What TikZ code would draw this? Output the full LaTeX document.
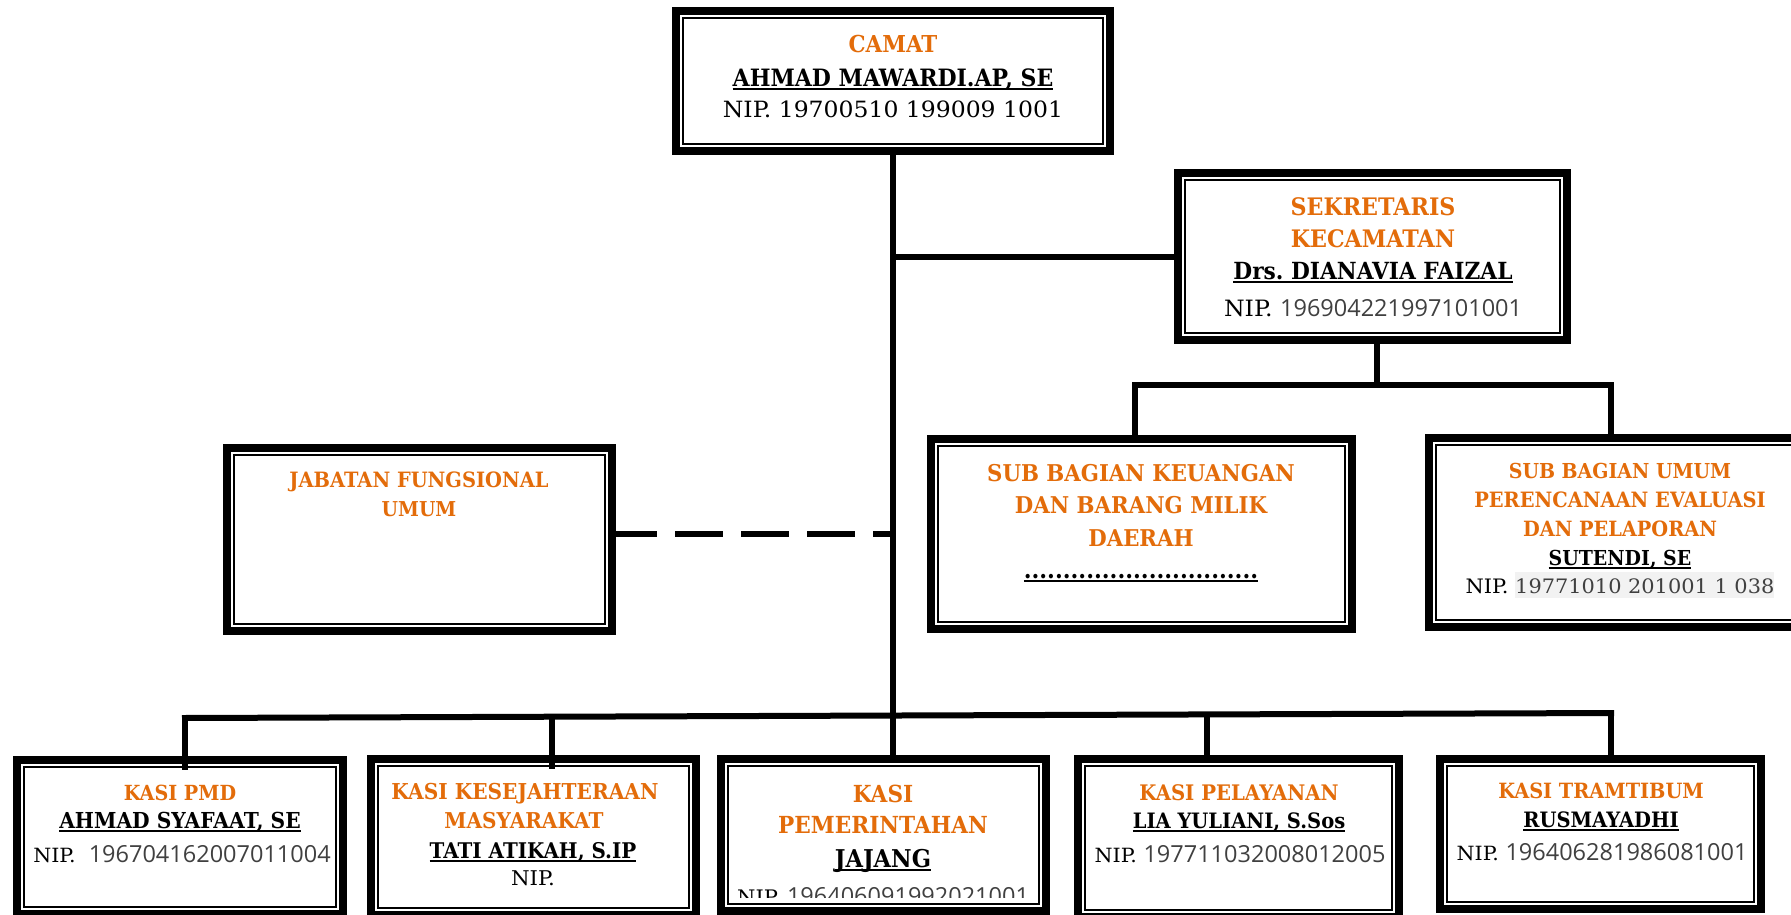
\documentclass[tikz,border=0pt]{standalone}
\usepackage{fontspec}
\newfontfamily\nipsans{Open Sans}
\newfontfamily\dvs{DejaVu Serif}[FakeStretch=0.92]
\newfontfamily\dvr{DejaVu Serif}[FakeStretch=1.05]
\definecolor{org}{HTML}{E36C0A}
\definecolor{dg}{HTML}{404040}
\definecolor{hl}{HTML}{F2F2F2}
\newcommand\dig[1]{{\nipsans\fontsize{23.5}{23.5}\selectfont\color{dg}#1}}
\frenchspacing
\tikzset{
  orgbox/.style={draw, line width=8pt, fill=white, inner sep=0pt, outer sep=4pt, rectangle},
  innerframe/.style={line width=2pt},
  conn/.style={line width=6pt},
  dconn/.style={line width=6.5pt, dash pattern=on 48pt off 18pt, dash phase=7pt},
  txt/.style={anchor=base, inner sep=0pt, outer sep=0pt},
  ttl/.style={txt, text=org, font=\dvs\bfseries\fontsize{#1}{#1}\selectfont},
  nm/.style={txt, text=black, font=\dvs\bfseries\fontsize{#1}{#1}\selectfont},
  rg/.style={txt, text=black, font=\dvr\fontsize{#1}{#1}\selectfont},
  uline/.style={line width=2pt}
}
\newcommand\orgframe[5]{%
  \node[orgbox, minimum width={#4-#2-8}, minimum height={#5-#3-8}] (#1) at ({(#2+#4)/2},{(#3+#5)/2}) {};
  \draw[innerframe] ([shift={(11pt,-11pt)}]#1.north west) rectangle ([shift={(-11pt,11pt)}]#1.south east);
}
\newcommand\tline[5]{\node[#4] (#1) at (#2,#3) {#5};}
\newcommand\uln[1]{\draw[uline] ([yshift=-3pt]#1.base west) -- ([yshift=-3pt]#1.base east);}
\begin{document}
\begin{tikzpicture}[x=1pt,y=-1pt]
\useasboundingbox (0,0) rectangle (1791,914);
\clip (0,0) rectangle (1791,914);
\fill[white] (0,0) rectangle (1791,914);

% boxes
\orgframe{camat}{672}{7}{1114}{155}
\orgframe{sekr}{1174}{169}{1571}{344}
\orgframe{keu}{927}{435}{1356}{633}
\orgframe{umum}{1425}{434}{1815}{631}
\orgframe{jab}{223}{444}{616}{635}
\orgframe{pmd}{13}{756}{347}{918}
\orgframe{kesej}{367}{755}{700}{919}
\orgframe{pem}{717}{755}{1050}{915}
\orgframe{pel}{1074}{755}{1403}{921}
\orgframe{tram}{1436}{755}{1765}{913}

% CAMAT
\tline{camatT}{893}{52}{ttl=23.3}{CAMAT}
\tline{camatN}{893}{86}{nm=23.9}{AHMAD MAWARDI.AP, SE}
\uln{camatN}
\tline{camatP}{893}{117}{rg=22.4}{NIP. 19700510 199009 1001}

% SEKRETARIS
\tline{sekrT1}{1373}{215}{ttl=24.1}{SEKRETARIS}
\tline{sekrT2}{1373}{247}{ttl=24.1}{KECAMATAN}
\tline{sekrN}{1373}{279}{nm=23.6}{Drs. DIANAVIA FAIZAL}
\uln{sekrN}
\tline{sekrP}{1373}{316}{rg=22.5}{NIP. \dig{196904221997101001}}

% SUB BAGIAN KEUANGAN
\tline{keuT1}{1141}{481}{ttl=23.1}{SUB BAGIAN KEUANGAN}
\tline{keuT2}{1141}{513}{ttl=23.1}{DAN BARANG MILIK}
\tline{keuT3}{1141}{546}{ttl=23.1}{DAERAH}
\tline{keuN}{1141}{578}{nm=24.4}{..............................}
\uln{keuN}

% SUB BAGIAN UMUM
\tline{umumT1}{1620}{478}{ttl=20.6}{SUB BAGIAN UMUM}
\tline{umumT2}{1620}{507}{ttl=21.1}{PERENCANAAN EVALUASI}
\tline{umumT3}{1620}{536}{ttl=21}{DAN PELAPORAN}
\tline{umumN}{1620}{565}{nm=20.6}{SUTENDI, SE}
\uln{umumN}
\tline{umumP}{1620}{593}{rg=19.9}{NIP. {\setlength\fboxsep{0pt}\colorbox{hl}{\rule[-5pt]{0pt}{26pt}\color{dg}19771010 201001 1 038}}}

% JABATAN FUNGSIONAL
\tline{jabT1}{419}{487}{ttl=21.1}{JABATAN FUNGSIONAL}
\tline{jabT2}{419}{516}{ttl=20.5}{UMUM}

% KASI PMD
\tline{pmdT}{180}{800}{ttl=20.8}{KASI PMD}
\tline{pmdN}{180}{828}{nm=22}{AHMAD SYAFAAT, SE}
\uln{pmdN}
\tline{pmdP}{182}{862}{rg=19.6}{NIP.\ \ \dig{196704162007011004}}

% KASI KESEJAHTERAAN
\tline{kesT1}{525}{799}{ttl=21.9}{KASI KESEJAHTERAAN}
\tline{kesT2}{524}{828}{ttl=21.8}{MASYARAKAT}
\tline{kesN}{533}{858}{nm=21.6}{TATI ATIKAH, S.IP}
\uln{kesN}
\tline{kesP}{533}{885}{rg=20.3}{NIP.}

% KASI PEMERINTAHAN
\tline{pemT1}{883}{802}{ttl=23.5}{KASI}
\tline{pemT2}{883}{833}{ttl=23.5}{PEMERINTAHAN}
\tline{pemN}{883}{867}{nm=24.5}{JAJANG}
\uln{pemN}
\begin{scope}
\clip (717,755) rectangle (1050,897);
\tline{pemP}{883}{904}{rg=20}{NIP. \dig{196406091992021001}}
\end{scope}

% KASI PELAYANAN
\tline{pelT}{1239}{800}{ttl=21.4}{KASI PELAYANAN}
\tline{pelN}{1239}{828}{nm=21.2}{LIA YULIANI, S.Sos}
\uln{pelN}
\tline{pelP}{1240}{862}{rg=19.6}{NIP. \dig{197711032008012005}}

% KASI TRAMTIBUM
\tline{tramT}{1601}{798}{ttl=21}{KASI TRAMTIBUM}
\tline{tramN}{1601}{827}{nm=21.2}{RUSMAYADHI}
\uln{tramN}
\tline{tramP}{1602}{860}{rg=19.6}{NIP. \dig{196406281986081001}}

% connectors
\draw[conn] (camat.south) -- (camat.south |- pem.north);
\draw[conn] (sekr.west) -- (sekr.west -| camat.south);
\coordinate (sB) at (1377,385);
\coordinate (kD) at (1135,385);
\coordinate (uD) at (1611,385);
\draw[conn] (sB |- sekr.south) -- (sB);
\draw[conn] (kD |- keu.north) -- (kD) -- (uD) -- (uD |- umum.north);
\coordinate (jD) at (893,534);
\draw[dconn] (jD -| jab.east) -- (jD);
\coordinate (busL) at (182,718);
\coordinate (busR) at (1614,713);
\draw[conn] (busL) -- (busR);
\coordinate (bM) at (185,718);
\coordinate (bK) at (552,716.7);
\coordinate (bP) at (1207,714.4);
\coordinate (bT) at (1611,713);
\draw[conn] (bM) -- ([yshift=-14pt]bM |- pmd.north);
\draw[conn] (bK) -- ([yshift=-14pt]bK |- kesej.north);
\draw[conn] (bP) -- (bP |- pel.north);
\draw[conn] (bT) -- (bT |- tram.north);
\end{tikzpicture}
\end{document}
